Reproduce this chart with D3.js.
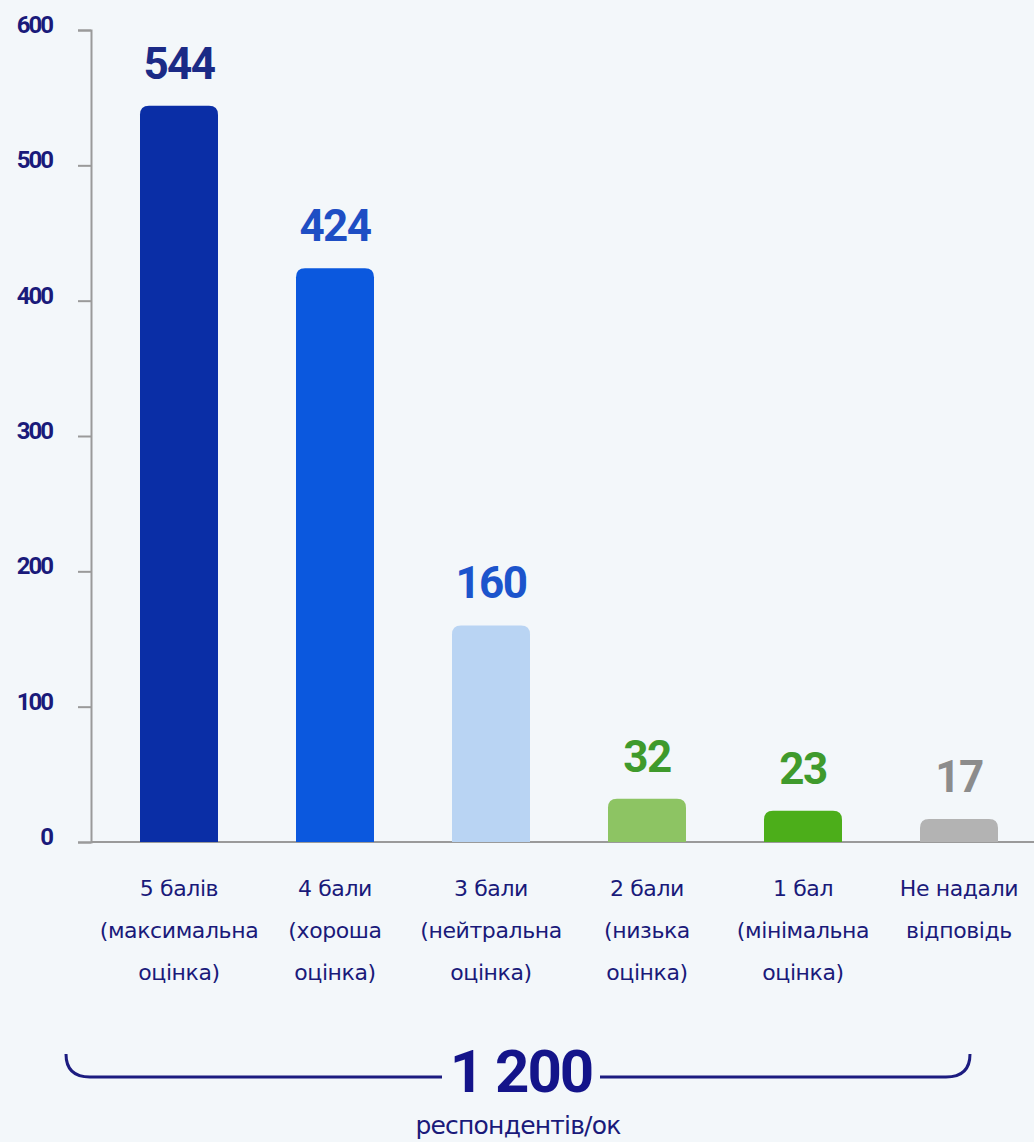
<!DOCTYPE html>
<html>
<head>
<meta charset="utf-8">
<script src="https://cdn.jsdelivr.net/npm/d3@7"></script>
<style>
  html, body { margin: 0; padding: 0; background: #f3f7fa; }
  svg { display: block; }
</style>
</head>
<body>
<svg id="chart" width="1034" height="1142"></svg>
<script>
// Survey results: number of respondents per rating
const categories = [
  ["5 балів", "(максимальна", "оцінка)"],
  ["4 бали", "(хороша", "оцінка)"],
  ["3 бали", "(нейтральна", "оцінка)"],
  ["2 бали", "(низька", "оцінка)"],
  ["1 бал", "(мінімальна", "оцінка)"],
  ["Не надали", "відповідь"]
];
const values = [544, 424, 160, 32, 23, 17];
const barColors = ["#0a2ea6", "#0b58de", "#b9d4f3", "#8dc463", "#4cae1a", "#b3b3b3"];
const labelColors = ["#1b2a86", "#1e4ec4", "#1c54cc", "#3f9a2c", "#3f9a2c", "#8c8c8c"];
const yTicks = [0, 100, 200, 300, 400, 500, 600];
const totalLabel = "1 200";
const totalCaption = "респондентів/ок";

const svg = d3.select("#chart");
const navy = "#1a1a7a";

const y = d3.scaleLinear().domain([0, 600]).range([842, 30]);
const x = d3.scaleBand().domain(d3.range(values.length)).range([101, 1037])
  .paddingInner(0.5).paddingOuter(0.25);

// y axis
const yAxis = svg.append("g").attr("transform", "translate(91,0)")
  .call(d3.axisLeft(y).tickValues(yTicks).tickSize(13).tickPadding(26).tickSizeOuter(13));
yAxis.select(".domain").attr("stroke", "#9a9a9a").attr("stroke-width", 2);
yAxis.selectAll(".tick line").attr("stroke", "#9a9a9a").attr("stroke-width", 2);
yAxis.selectAll(".tick text")
  .attr("fill", navy)
  .attr("font-family", "Roboto, sans-serif")
  .attr("font-weight", "bold")
  .attr("font-size", 24)
  .attr("letter-spacing", -2)
  .attr("dy", "0.1em");

// baseline
svg.append("line")
  .attr("x1", 91).attr("x2", 1034)
  .attr("y1", y(0)).attr("y2", y(0))
  .attr("stroke", "#9a9a9a").attr("stroke-width", 2);

// bars with rounded tops
const r = 9;
function barPath(d, i) {
  const x0 = x(i), w = x.bandwidth(), top = y(d), bot = y(0);
  const rr = Math.min(r, (bot - top));
  return `M${x0},${bot}V${top + rr}Q${x0},${top} ${x0 + rr},${top}H${x0 + w - rr}Q${x0 + w},${top} ${x0 + w},${top + rr}V${bot}Z`;
}
svg.append("g").selectAll("path").data(values).join("path")
  .attr("d", barPath)
  .attr("fill", (d, i) => barColors[i]);

// value labels
svg.append("g").selectAll("text").data(values).join("text")
  .attr("x", (d, i) => x(i) + x.bandwidth() / 2)
  .attr("y", d => y(d) - 27)
  .attr("text-anchor", "middle")
  .attr("font-family", "Roboto, sans-serif")
  .attr("font-weight", "bold")
  .attr("font-size", 44)
  .attr("letter-spacing", -1.5)
  .attr("fill", (d, i) => labelColors[i])
  .text(d => d);

// category labels
const catG = svg.append("g").selectAll("text").data(categories).join("text")
  .attr("text-anchor", "middle")
  .attr("font-family", "'DejaVu Sans', sans-serif")
  .attr("font-size", 22)
  .attr("letter-spacing", -0.4)
  .attr("fill", navy);
catG.selectAll("tspan").data((d, i) => d.map(t => ({ t, i }))).join("tspan")
  .attr("x", d => x(d.i) + x.bandwidth() / 2)
  .attr("y", (d, j) => 896 + j * 42)
  .text(d => d.t);

// bracket with total
const bracketY = 1077;
svg.append("path")
  .attr("d", `M66,1054 Q66,${bracketY} 90,${bracketY} H442`)
  .attr("fill", "none").attr("stroke", "#1c1c80").attr("stroke-width", 3);
svg.append("path")
  .attr("d", `M600,${bracketY} H946 Q970,${bracketY} 970,1054`)
  .attr("fill", "none").attr("stroke", "#1c1c80").attr("stroke-width", 3);
svg.append("text")
  .attr("x", 521).attr("y", 1092)
  .attr("text-anchor", "middle")
  .attr("font-family", "Roboto, sans-serif")
  .attr("font-weight", "bold")
  .attr("font-size", 60)
  .attr("letter-spacing", -2)
  .attr("fill", "#14148a")
  .text(totalLabel);
svg.append("text")
  .attr("x", 518).attr("y", 1134)
  .attr("text-anchor", "middle")
  .attr("font-family", "'DejaVu Sans', sans-serif")
  .attr("font-size", 25)
  .attr("letter-spacing", -0.8)
  .attr("fill", navy)
  .text(totalCaption);
</script>
</body>
</html>
